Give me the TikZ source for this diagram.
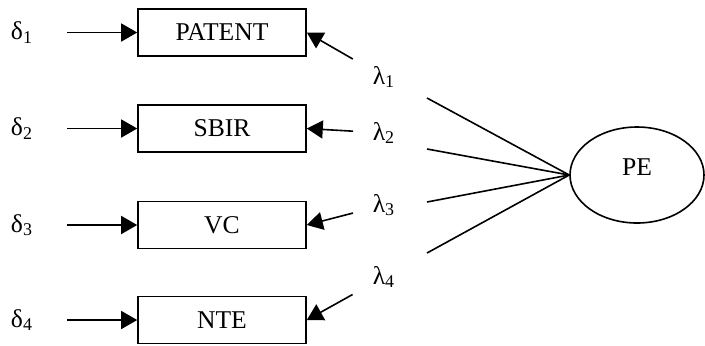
\documentclass[tikz,border=0pt]{standalone}
\usepackage{fontspec}
\setmainfont{Liberation Serif}
\usetikzlibrary{positioning,arrows.meta,shapes.geometric}

\begin{document}
\begin{tikzpicture}[x=0.5pt, y=-0.5pt, line width=0.8pt, >={Triangle[length=8pt,width=9pt]},
  every node/.style={font=\fontsize{12.8}{15}\selectfont},
  var/.style={draw,minimum width=84pt,minimum height=23.5pt},
  latent/.style={draw,ellipse,minimum width=67pt,minimum height=48pt,inner sep=0pt,text depth=8pt}]
\useasboundingbox (0,0) rectangle (705,345);
% indicators
\node[var] (patent) at (222,32.5) {PATENT};
\node[var] (sbir) at (222,128.5) {SBIR};
\node[var] (vc) at (222,225) {VC};
\node[var] (nte) at (222,320) {NTE};
% errors
\node (d1) at (22,32.5) {δ\textsubscript{1}};
\node (d2) at (22,128.5) {δ\textsubscript{2}};
\node (d3) at (22,225) {δ\textsubscript{3}};
\node (d4) at (22,320) {δ\textsubscript{4}};
% loadings
\node (l1) at (384,77) {λ\textsubscript{1}};
\node (l2) at (384,133) {λ\textsubscript{2}};
\node (l3) at (384,205) {λ\textsubscript{3}};
\node (l4) at (384,277) {λ\textsubscript{4}};
\node[latent] (pe) at (637,175) {PE};
\coordinate (f1) at (427,98); \coordinate (f2) at (427,149);
\coordinate (f3) at (427,202); \coordinate (f4) at (427,253);
\draw[->,shorten <=22.5pt] (d1.center)--(patent); \draw[->,shorten <=22.5pt] (d2.center)--(sbir);
\draw[->,shorten <=22.5pt] (d3.center)--(vc); \draw[->,shorten <=22.5pt] (d4.center)--(nte);
\draw[->,shorten <=18pt] (l1.center)--(patent.east); \draw[->,shorten <=15.5pt] (l2.center)--(sbir.east);
\draw[->,shorten <=16pt] (l3.center)--(vc.east); \draw[->,shorten <=18pt] (l4.center)--(nte.east);
\draw (f1)--(pe.west); \draw (f2)--(pe.west); \draw (f3)--(pe.west); \draw (f4)--(pe.west);
\end{tikzpicture}
\end{document}
